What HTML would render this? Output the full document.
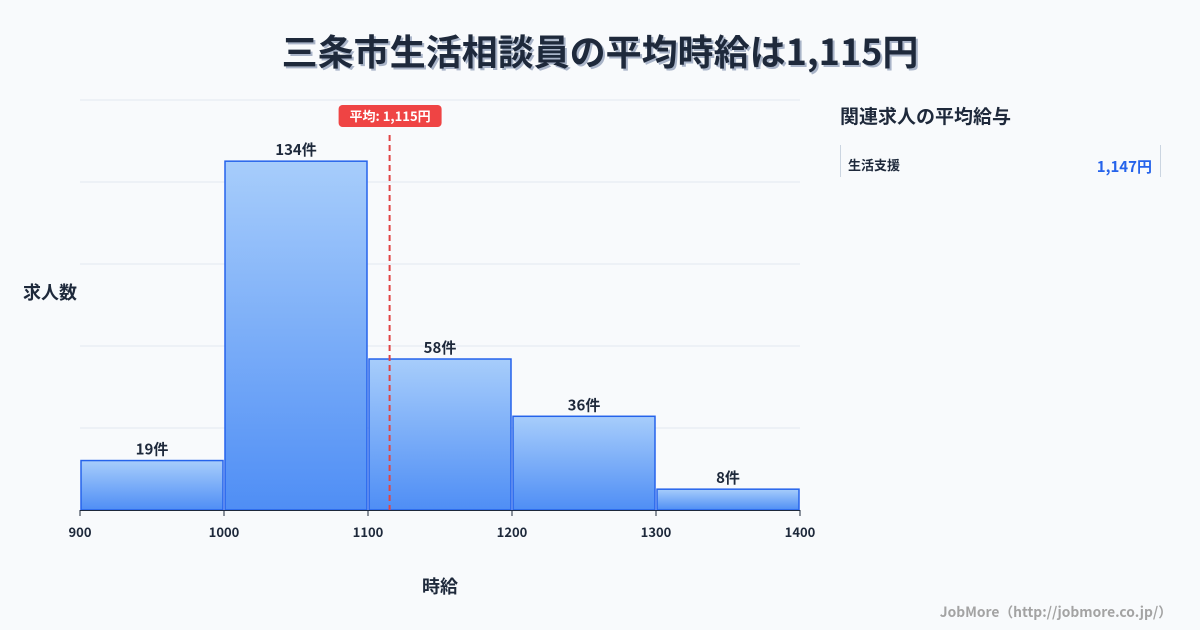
<!DOCTYPE html>
<html><head><meta charset="utf-8">
<style>
body{margin:0;background:#f8fafc;}
svg{display:block;font-family:"Noto Sans CJK JP","Liberation Sans",sans-serif;}
</style></head>
<body>
<svg id="c" width="1200" height="630" viewBox="0 0 1200 630">
<defs>
<linearGradient id="g" x1="0" y1="0" x2="0" y2="1">
<stop offset="0" stop-color="#a7cdfb"/><stop offset="1" stop-color="#4f8ef5"/>
</linearGradient>
</defs>
<rect width="1200" height="630" fill="#f8fafc"/>
<text x="602" y="67" text-anchor="middle" font-size="36" font-weight="bold" fill="#a9b4c8">三条市生活相談員の平均時給は1,115円</text>
<text x="600" y="65" text-anchor="middle" font-size="36" font-weight="bold" fill="#1e293b">三条市生活相談員の平均時給は1,115円</text>
<g id="grid"></g>
<g id="bars"></g>
<g id="xt"></g>
<g id="avg"></g>
<text x="50" y="299" text-anchor="middle" font-size="18" font-weight="bold" fill="#1e293b">求人数</text>
<text x="440" y="593" text-anchor="middle" font-size="18" font-weight="bold" fill="#1e293b">時給</text>
<text x="840" y="123" font-size="19" font-weight="bold" fill="#1e293b">関連求人の平均給与</text>
<line x1="840.5" y1="145" x2="840.5" y2="177" stroke="#cbd5e1"/>
<line x1="1160.5" y1="145" x2="1160.5" y2="177" stroke="#cbd5e1"/>
<text x="848" y="170" font-size="13" font-weight="bold" fill="#1e293b">生活支援</text>
<text x="1152" y="172" text-anchor="end" font-size="15" font-weight="bold" fill="#2563eb">1,147円</text>
<text x="1172" y="617" text-anchor="end" font-size="13.8" font-weight="bold" fill="#a3a3a3">JobMore（http://jobmore.co.jp/）</text>
</svg>
<script>
const binStarts=[900,1000,1100,1200,1300];
const counts=[19,134,58,36,8];
const xTicks=[900,1000,1100,1200,1300,1400];
const avgWage=1115;
const avgLabel="平均: 1,115円";
const NS="http://www.w3.org/2000/svg";
const X0=80,X1=800,Y0=510,Y1=100,xmin=900,xmax=1400,ymax=157.5;
const xs=v=>X0+(v-xmin)/(xmax-xmin)*(X1-X0);
const ys=v=>Y0-v/ymax*(Y0-Y1);
function mk(t,a,p){const e=document.createElementNS(NS,t);for(const k in a)e.setAttribute(k,a[k]);p.appendChild(e);return e;}
const grid=document.getElementById('grid');
for(let i=0;i<=5;i++){const y=Y0-i*(Y0-Y1)/5;const l=mk('line',{x1:X0,x2:X1,y1:y,y2:y,stroke:'#e2e8f0'},grid);

}
const bars=document.getElementById('bars');
counts.forEach((c,i)=>{const a=xs(binStarts[i])+1,b=xs(binStarts[i]+100)-1;const y=ys(c);
const r=mk('rect',{x:a,y:y,width:b-a,height:Y0-y,fill:'url(#g)',stroke:'#2563eb','stroke-width':1.5},bars);


const t=mk('text',{x:(a+b)/2,y:y-6,'text-anchor':'middle','font-size':15,'font-weight':'bold',fill:'#1e293b'},bars);t.textContent=c+'件';

});
const xt=document.getElementById('xt');
const ax=mk('line',{x1:X0,x2:X1,y1:Y0+0.5,y2:Y0+0.5,stroke:'#1e293b'},xt);


xTicks.forEach(v=>{const x=xs(v);mk('line',{x1:x,x2:x,y1:Y0,y2:Y0+6,stroke:'#1e293b'},xt);
const t=mk('text',{x:x,y:537,'text-anchor':'middle','font-size':13,'font-weight':'bold',fill:'#1e293b'},xt);t.textContent=v;

});
const avg=document.getElementById('avg');const ax2=xs(avgWage);
const dl=mk('line',{x1:ax2,x2:ax2,y1:135,y2:Y0,stroke:'#e04444','stroke-width':2,'stroke-dasharray':'6,4'},avg);


const br=mk('rect',{x:ax2-51,y:105,width:103,height:22,rx:4,fill:'#ef4444'},avg);


const bt=mk('text',{x:ax2+0.5,y:121,'text-anchor':'middle','font-size':13,'font-weight':'bold',fill:'#fff'},avg);bt.textContent=avgLabel;


</script>
</body></html>
